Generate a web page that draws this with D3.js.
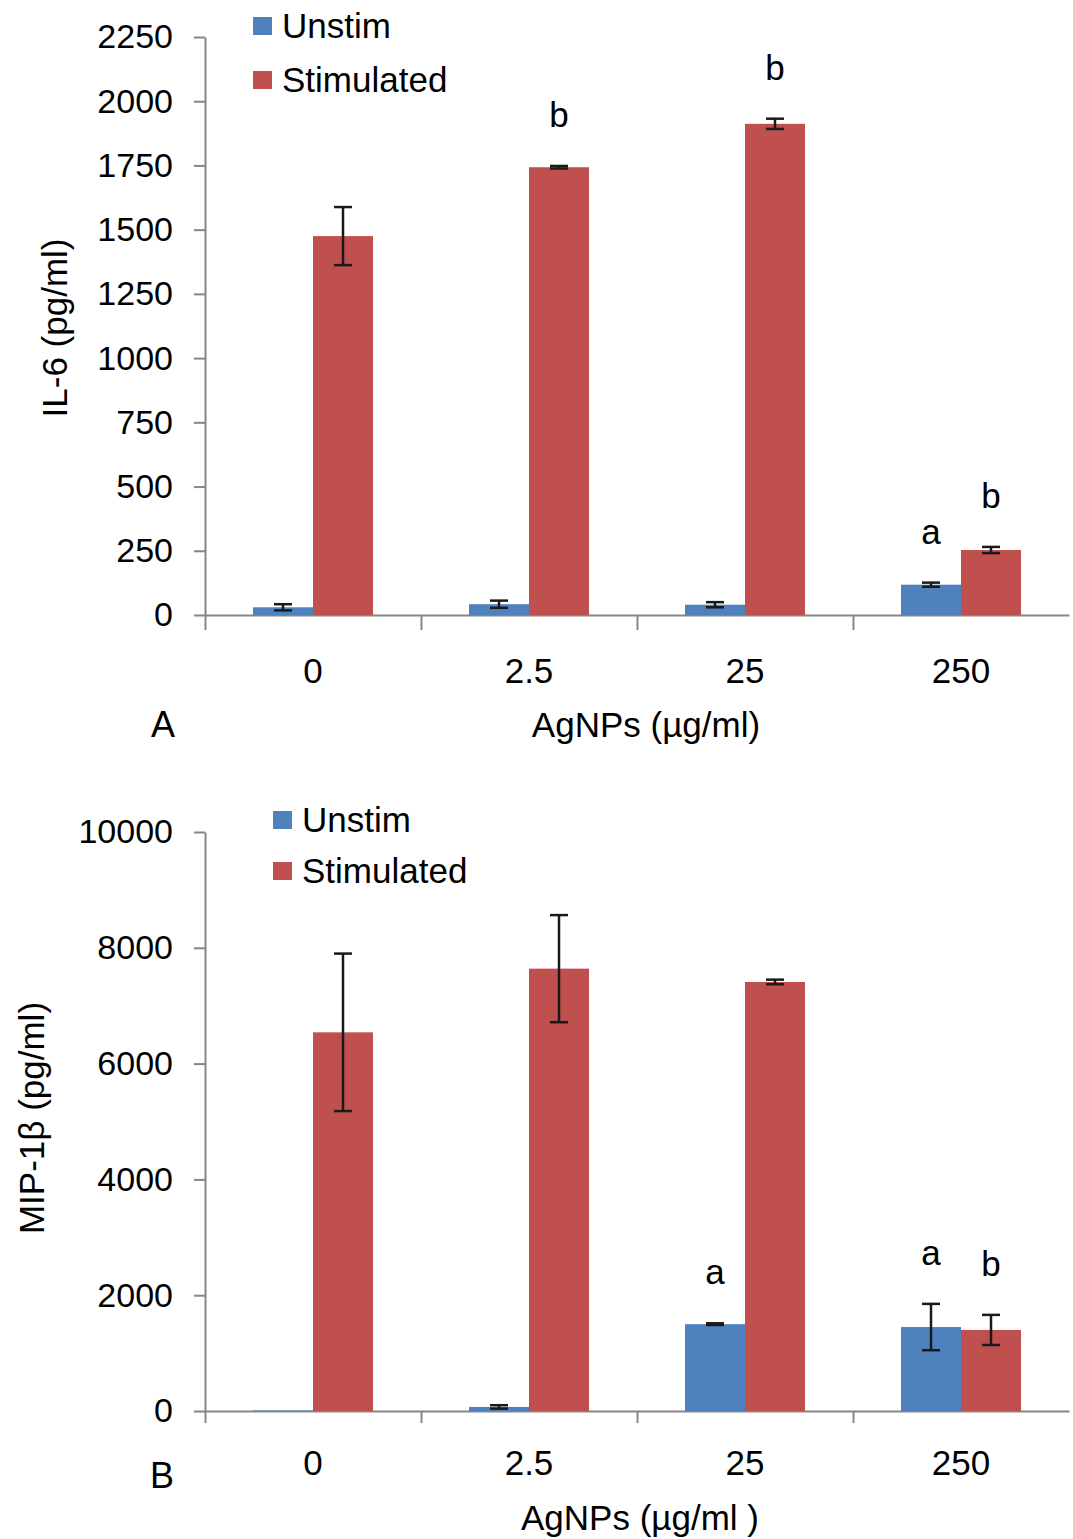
<!DOCTYPE html>
<html>
<head>
<meta charset="utf-8">
<script src="https://cdn.jsdelivr.net/npm/d3@7"></script>
<style>
  body { margin: 0; background: #fff; }
  text { font-family: "Liberation Sans", Arial, sans-serif; fill: #000; }
  .axis path, .axis line { stroke: #868686; stroke-width: 2; }
</style>
</head>
<body>
<svg id="svg"></svg>
<script>
// categories on the x axis (AgNPs, ug/ml)
var categories = ["0", "2.5", "25", "250"]
var seriesNames = ["Unstim", "Stimulated"]

// panel A - IL-6 (pg/ml)
var il6Unstim = [30, 42, 40, 118]
var il6UnstimErr = [12, 14, 10, 8]
var il6Stim = [1475, 1743, 1912, 253]
var il6StimErr = [113, 5, 20, 12]
var il6Ticks = [0, 250, 500, 750, 1000, 1250, 1500, 1750, 2000, 2250]
var il6UnstimLetters = ["", "", "", "a"]
var il6StimLetters = ["", "b", "b", "b"]

// panel B - MIP-1b (pg/ml)
var mipUnstim = [10, 70, 1500, 1450]
var mipUnstimErr = [0, 30, 15, 400]
var mipStim = [6540, 7640, 7410, 1400]
var mipStimErr = [1360, 925, 40, 260]
var mipTicks = [0, 2000, 4000, 6000, 8000, 10000]
var mipUnstimLetters = ["", "", "a", "a"]
var mipStimLetters = ["", "", "", "b"]

var colors = ["#4F81BD", "#C0504D"]

var W = 1073, H = 1539
var svg = d3.select("#svg").attr("width", W).attr("height", H)

var x = d3.scaleBand().domain(categories).range([205, 1069]).padding(0)
var barW = 60

function panel(p) {
    var g = svg.append("g")

    var y = d3.scaleLinear().domain([0, p.max]).range([p.bottom, p.top])

    // y axis
    g.append("g")
        .attr("class", "axis")
        .attr("transform", "translate(205,0)")
        .call(d3.axisLeft(y).tickValues(p.ticks).tickSize(11).tickSizeOuter(0).tickPadding(21).tickFormat(d3.format("d")))
        .selectAll("text")
        .style("font-size", "34px")

    // x axis: labels at band centers
    var xa = g.append("g")
        .attr("class", "axis")
        .attr("transform", "translate(0," + p.bottom + ")")
        .call(d3.axisBottom(x).tickSize(0).tickSizeOuter(0).tickPadding(p.labelPad))
    xa.selectAll("text").style("font-size", "35px")

    // x axis: boundary ticks between categories
    var xb = d3.scaleLinear().domain([0, categories.length]).range(x.range())
    g.append("g")
        .attr("class", "axis")
        .attr("transform", "translate(0," + p.bottom + ")")
        .call(d3.axisBottom(xb).tickValues(d3.range(categories.length)).tickSize(p.tickLen).tickSizeOuter(0).tickFormat(""))
        .select(".domain").remove()

    var series = [
        { vals: p.unstim, err: p.unstimErr, letters: p.unstimLetters, off: -barW },
        { vals: p.stim, err: p.stimErr, letters: p.stimLetters, off: 0 }
    ]

    series.forEach(function (s, si) {
        var cx = function (d, i) { return x(categories[i]) + x.bandwidth() / 2 + s.off }

        g.selectAll("rect.bar" + si)
            .data(s.vals)
            .enter().append("rect")
            .attr("class", "bar" + si)
            .attr("x", function (d, i) { return cx(d, i) })
            .attr("y", function (d) { return y(d) })
            .attr("width", barW)
            .attr("height", function (d) { return p.bottom - y(d) })
            .attr("fill", colors[si])

        // error bars
        var eb = g.selectAll("g.err" + si)
            .data(s.vals)
            .enter().append("g")
            .attr("class", "err" + si)
            .attr("transform", function (d, i) { return "translate(" + (cx(d, i) + barW / 2) + ",0)" })
            .style("display", function (d, i) { return s.err[i] > 0 ? null : "none" })
            .attr("stroke", "#1a1a1a")
            .attr("stroke-width", 2.5)
        eb.append("line")
            .attr("y1", function (d, i) { return y(d + s.err[i]) })
            .attr("y2", function (d, i) { return y(d - s.err[i]) })
        eb.append("line")
            .attr("x1", -9).attr("x2", 9)
            .attr("y1", function (d, i) { return y(d + s.err[i]) })
            .attr("y2", function (d, i) { return y(d + s.err[i]) })
        eb.append("line")
            .attr("x1", -9).attr("x2", 9)
            .attr("y1", function (d, i) { return y(d - s.err[i]) })
            .attr("y2", function (d, i) { return y(d - s.err[i]) })

        // significance letters
        g.selectAll("text.let" + si)
            .data(s.vals)
            .enter().append("text")
            .attr("class", "let" + si)
            .attr("x", function (d, i) { return cx(d, i) + barW / 2 })
            .attr("y", function (d, i) { return y(d + s.err[i]) - 39 })
            .attr("text-anchor", "middle")
            .style("font-size", "35px")
            .text(function (d, i) { return s.letters[i] })
    })

    // legend
    var lg = g.selectAll("g.leg")
        .data(seriesNames)
        .enter().append("g")
        .attr("class", "leg")
        .attr("transform", function (d, i) { return "translate(" + p.legX + "," + p.legY[i] + ")" })
    lg.append("rect")
        .attr("x", 0).attr("y", -9)
        .attr("width", 19).attr("height", 18)
        .attr("fill", function (d, i) { return colors[i] })
    lg.append("text")
        .attr("x", 29)
        .attr("dy", "0.35em")
        .style("font-size", "35px")
        .text(function (d) { return d })

    // axis titles
    g.append("text")
        .attr("transform", "translate(" + p.yTitle[0] + "," + p.yTitle[1] + ") rotate(-90)")
        .attr("text-anchor", "middle")
        .attr("dy", "0.35em")
        .style("font-size", "35px")
        .text(p.yLabel)

    g.append("text")
        .attr("x", p.xTitle[0]).attr("y", p.xTitle[1])
        .attr("text-anchor", "middle")
        .style("font-size", "35px")
        .text(p.xLabel)

    g.append("text")
        .attr("x", p.tag[0]).attr("y", p.tag[1])
        .attr("text-anchor", "middle")
        .style("font-size", "36px")
        .text(p.tagText)
}

panel({
    top: 37, bottom: 615, max: 2250, ticks: il6Ticks,
    unstim: il6Unstim, unstimErr: il6UnstimErr, unstimLetters: il6UnstimLetters,
    stim: il6Stim, stimErr: il6StimErr, stimLetters: il6StimLetters,
    labelPad: 43, tickLen: 15,
    legX: 253, legY: [26, 80],
    yLabel: "IL-6 (pg/ml)", yTitle: [55, 328],
    xLabel: "AgNPs (µg/ml)", xTitle: [646, 737],
    tagText: "A", tag: [163, 737]
})

panel({
    top: 832, bottom: 1411, max: 10000, ticks: mipTicks,
    unstim: mipUnstim, unstimErr: mipUnstimErr, unstimLetters: mipUnstimLetters,
    stim: mipStim, stimErr: mipStimErr, stimLetters: mipStimLetters,
    labelPad: 39, tickLen: 12,
    legX: 273, legY: [820, 871],
    yLabel: "MIP-1β (pg/ml)", yTitle: [32, 1118],
    xLabel: "AgNPs (µg/ml )", xTitle: [640, 1530],
    tagText: "B", tag: [162, 1488]
})
</script>
</body>
</html>
